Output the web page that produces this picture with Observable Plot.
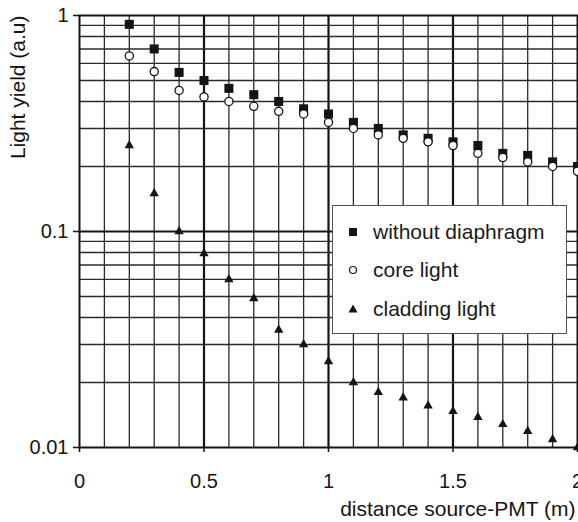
<!DOCTYPE html>
<html><head><meta charset="utf-8">
<script src="https://cdn.jsdelivr.net/npm/d3@7"></script>
<script src="https://cdn.jsdelivr.net/npm/@observablehq/plot@0.6"></script>
<style>
body{margin:0;background:#fff;}
#wrap{position:relative;width:578px;height:522px;font-family:"Liberation Sans",Arial,sans-serif;color:#1a1a1a;}
#legend{position:absolute;left:332px;top:205px;width:233px;height:127px;border:1.5px solid #555;background:#fff;}
.row{position:absolute;left:14px;font-size:21px;line-height:24px;height:24px;white-space:nowrap;}
.row svg{position:absolute;left:0;top:3px;}
.row span{position:absolute;left:26px;top:0;}
</style></head>
<body><div id="wrap"></div>
<script>
const distance = [0.2,0.3,0.4,0.5,0.6,0.7,0.8,0.9,1.0,1.1,1.2,1.3,1.4,1.5,1.6,1.7,1.8,1.9,2.0];
const withoutDiaphragm = [0.91,0.70,0.545,0.50,0.46,0.43,0.40,0.37,0.35,0.32,0.30,0.28,0.27,0.26,0.25,0.23,0.225,0.21,0.20];
const coreLight = [0.65,0.55,0.45,0.42,0.40,0.38,0.36,0.35,0.32,0.30,0.28,0.27,0.26,0.25,0.23,0.22,0.21,0.20,0.19];
const claddingLight = [0.25,0.15,0.10,0.079,0.06,0.049,0.035,0.030,0.025,0.020,0.018,0.017,0.0156,0.0147,0.0138,0.0128,0.0119,0.0109,0.010];
const seriesNames = ["without diaphragm","core light","cladding light"];
const xTicks = [0,0.5,1,1.5,2];
const yTicks = [0.01,0.1,1];
const xMinorGrid = [0.1,0.2,0.3,0.4,0.6,0.7,0.8,0.9,1.1,1.2,1.3,1.4,1.6,1.7,1.8,1.9];
const xMajorGrid = [0.5,1,1.5];
const yMinorGrid = [0.02,0.03,0.04,0.05,0.06,0.07,0.08,0.09,0.2,0.3,0.4,0.5,0.6,0.7,0.8,0.9];
const yMajorGrid = [0.1];

const rows = distance.map((d,i)=>({d, w: withoutDiaphragm[i], c: coreLight[i], k: claddingLight[i]}));
const ink = "#141414";

const chart = Plot.plot({
  width: 578, height: 522,
  marginLeft: 79, marginRight: 1, marginTop: 15, marginBottom: 75,
  style: {fontFamily: '"Liberation Sans", Arial, sans-serif', fontSize: "20px", color: ink, background: "#fff"},
  x: {domain: [0,2]},
  y: {type: "log", domain: [0.01,1]},
  marks: [
    Plot.ruleX(xMinorGrid, {x: d=>d, stroke: "#2a2a2a", strokeWidth: 1.3}),
    Plot.ruleX(xMajorGrid, {x: d=>d, stroke: ink, strokeWidth: 2.2}),
    Plot.ruleY(yMinorGrid, {y: d=>d, stroke: "#2a2a2a", strokeWidth: 1.4}),
    Plot.ruleY(yMajorGrid, {y: d=>d, stroke: ink, strokeWidth: 2}),
    Plot.frame({stroke: ink, strokeWidth: 2}),
    Plot.axisX({ticks: xTicks, tickSize: 5, tickPadding: 21, fontSize: 20, label: null, tickFormat: d=>String(d), strokeWidth: 1.5}),
    Plot.axisY({ticks: yTicks, tickSize: 6, tickPadding: 5, fontSize: 20, label: null, tickFormat: d=>String(d), strokeWidth: 1.5}),
    Plot.dot(rows, {x: "d", y: "w", symbol: "square", r: 5.1, fill: ink, stroke: "none"}),
    Plot.dot(rows, {x: "d", y: "c", symbol: "circle", r: 4.1, fill: "#fff", stroke: ink, strokeWidth: 1.3}),
    Plot.dot(rows, {x: "d", y: "k", symbol: "triangle", r: 3.5, fill: ink, stroke: "none"}),
    Plot.text(["distance source-PMT (m)"], {frameAnchor: "bottom-right", textAnchor: "end", lineAnchor: "bottom", dy: 68, dx: -2, fontSize: 21, fill: ink}),
    Plot.text(["Light yield (a.u)"], {frameAnchor: "top-left", rotate: -90, textAnchor: "end", lineAnchor: "middle", dx: -61, fontSize: 21, fill: ink})
  ]
});
const wrap = document.getElementById("wrap");
wrap.appendChild(chart);

const legend = document.createElement("div");
legend.id = "legend";
const markers = [
  '<svg width="12" height="18"><rect x="2" y="5" width="8" height="8" fill="'+ink+'"/></svg>',
  '<svg width="12" height="18"><circle cx="6" cy="9" r="3.5" fill="#fff" stroke="'+ink+'" stroke-width="1.2"/></svg>',
  '<svg width="12" height="18"><path d="M6,4.5 L10.5,12.5 L1.5,12.5 Z" fill="'+ink+'"/></svg>'
];
const tops = [14, 52, 91];
seriesNames.forEach((name,i)=>{
  const r = document.createElement("div");
  r.className = "row";
  r.style.top = tops[i] + "px";
  r.innerHTML = markers[i] + "<span>" + name + "</span>";
  legend.appendChild(r);
});
wrap.appendChild(legend);
</script>
</body></html>
